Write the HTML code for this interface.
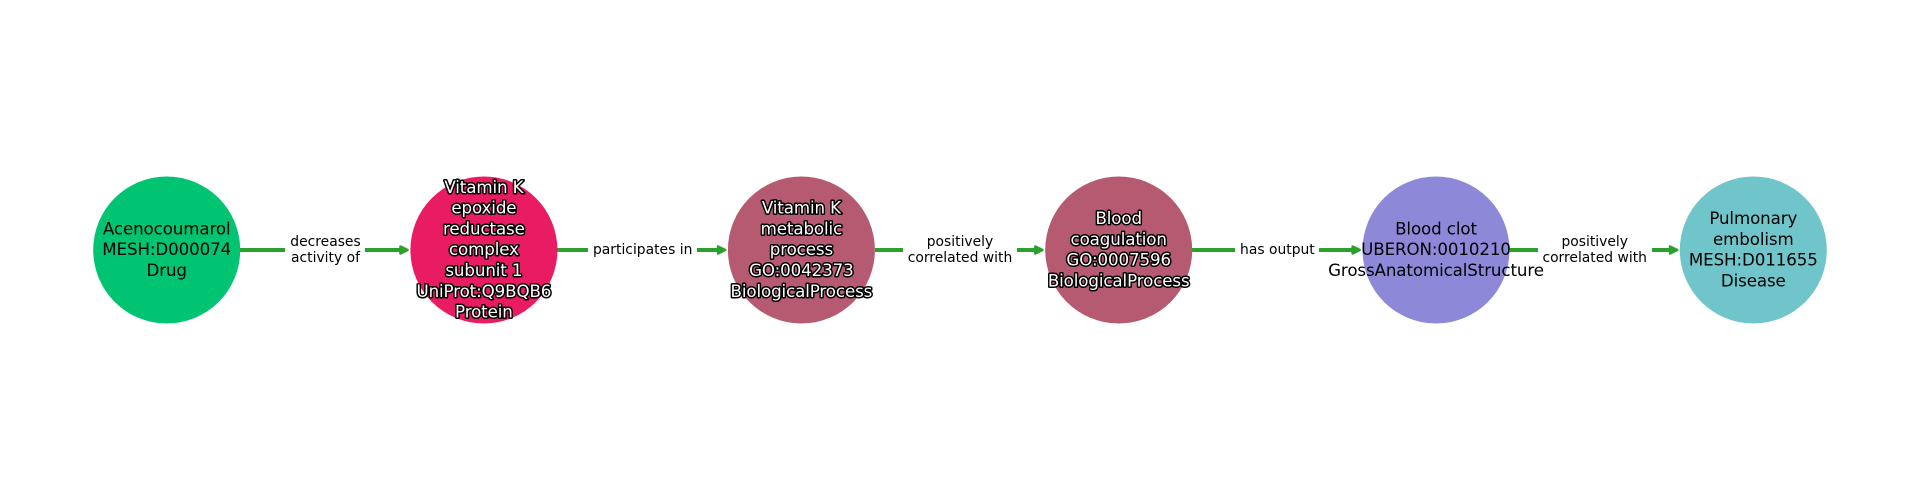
<!DOCTYPE html>
<html>
<head>
<meta charset="utf-8">
<style>
html,body{margin:0;padding:0;background:#fff;width:1920px;height:500px;overflow:hidden}
svg{display:block;filter:blur(0.3px)}
text{font-family:"DejaVu Sans",sans-serif;text-anchor:middle}
.n{font-size:16.67px;fill:#000;letter-spacing:-0.1px}
.h{font-size:16.67px;fill:#fff;stroke:#000;stroke-width:3px;paint-order:stroke;stroke-linejoin:round;letter-spacing:-0.1px}
.e{font-size:13.89px;fill:#000}
.l{stroke:#2ca02c;stroke-width:4px;fill:none}
.a{fill:#2ca02c;stroke:#2ca02c;stroke-width:2.4px;stroke-linejoin:round}
</style>
</head>
<body>
<svg width="1920" height="500" viewBox="0 0 1920 500" xmlns="http://www.w3.org/2000/svg">
<rect width="1920" height="500" fill="#fff"/>

<path class="l" d="M240 250H285M365 250H402"/>
<path class="l" d="M557 250H588M697 250H720"/>
<path class="l" d="M875 250H903M1017 250H1037"/>
<path class="l" d="M1192 250H1235M1319 250H1354"/>
<path class="l" d="M1510 250H1538M1652 250H1672"/>

<path class="a" d="M400.4 246.4L407.6 250L400.4 253.6Z"/>
<path class="a" d="M718 246.4L725.2 250L718 253.6Z"/>
<path class="a" d="M1035.3 246.4L1042.5 250L1035.3 253.6Z"/>
<path class="a" d="M1352.6 246.4L1359.8 250L1352.6 253.6Z"/>
<path class="a" d="M1670 246.4L1677.2 250L1670 253.6Z"/>

<circle cx="166.7" cy="250" r="73.5" fill="#00c472"/>
<circle cx="483.9" cy="250" r="73.5" fill="#e91b62"/>
<circle cx="801.4" cy="250" r="73.5" fill="#b55a71"/>
<circle cx="1118.7" cy="250" r="73.5" fill="#b55a71"/>
<circle cx="1436" cy="250" r="73.5" fill="#8d89d8"/>
<circle cx="1753.3" cy="250" r="73.5" fill="#70c5ca"/>

<text class="n" x="166.7" y="234.4">Acenocoumarol</text>
<text class="n" x="166.7" y="255.2">MESH:D000074</text>
<text class="n" x="166.7" y="276">Drug</text>

<text class="h" x="483.9" y="192.8">Vitamin K</text>
<text class="h" x="483.9" y="213.6">epoxide</text>
<text class="h" x="483.9" y="234.4">reductase</text>
<text class="h" x="483.9" y="255.2">complex</text>
<text class="h" x="483.9" y="276">subunit 1</text>
<text class="h" x="483.9" y="296.8">UniProt:Q9BQB6</text>
<text class="h" x="483.9" y="317.6">Protein</text>

<text class="h" x="801.4" y="213.6">Vitamin K</text>
<text class="h" x="801.4" y="234.4">metabolic</text>
<text class="h" x="801.4" y="255.2">process</text>
<text class="h" x="801.4" y="276">GO:0042373</text>
<text class="h" x="801.4" y="296.8">BiologicalProcess</text>

<text class="h" x="1118.7" y="224">Blood</text>
<text class="h" x="1118.7" y="244.8">coagulation</text>
<text class="h" x="1118.7" y="265.6">GO:0007596</text>
<text class="h" x="1118.7" y="286.4">BiologicalProcess</text>

<text class="n" x="1436" y="234.4">Blood clot</text>
<text class="n" x="1436" y="255.2">UBERON:0010210</text>
<text class="n" x="1436" y="276">GrossAnatomicalStructure</text>

<text class="n" x="1753.3" y="224">Pulmonary</text>
<text class="n" x="1753.3" y="244.8">embolism</text>
<text class="n" x="1753.3" y="265.6">MESH:D011655</text>
<text class="n" x="1753.3" y="286.4">Disease</text>

<text class="e" x="325.5" y="246">decreases</text>
<text class="e" x="325.5" y="262">activity of</text>
<text class="e" x="642.7" y="254">participates in</text>
<text class="e" x="960" y="246">positively</text>
<text class="e" x="960" y="262">correlated with</text>
<text class="e" x="1277.4" y="254">has output</text>
<text class="e" x="1594.7" y="246">positively</text>
<text class="e" x="1594.7" y="262">correlated with</text>
</svg>
</body>
</html>
